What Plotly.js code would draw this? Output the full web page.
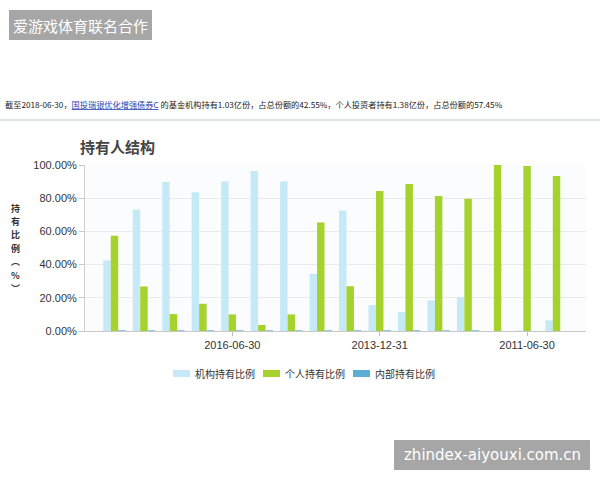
<!DOCTYPE html>
<html>
<head>
<meta charset="utf-8">
<script src="https://cdn.plot.ly/plotly-3.0.1.min.js"></script>
<style>html,body{margin:0;padding:0;background:#fff;}#chart{width:600px;height:480px;}</style>
</head>
<body>
<div id="chart"></div>
<script>
// ---- data ----
const dates = ["2018-06-30","2017-12-31","2017-06-30","2016-12-31","2016-06-30","2015-12-31","2015-06-30","2014-12-31","2014-06-30","2013-12-31","2013-06-30","2012-12-31","2012-06-30","2011-12-31","2011-06-30","2010-12-31"];
const institutional = [42.55, 73.2, 89.8, 83.6, 90.0, 96.4, 90.0, 34.4, 72.6, 15.6, 11.4, 18.4, 20.4, 0.0, 0.3, 6.4];
const individual    = [57.45, 26.8, 10.2, 16.4, 10.0, 3.6, 10.0, 65.4, 27.0, 84.4, 88.6, 81.4, 79.6, 100.0, 99.4, 93.4];
const internal      = [0.4, 0.4, 0.4, 0.4, 0.4, 0.4, 0.4, 0.4, 0.4, 0.4, 0.4, 0.4, 0.4, 0.0, 0.0, 0.0];
const seriesNames = ["机构持有比例", "个人持有比例", "内部持有比例"];
const shownTicks = ["2016-06-30", "2013-12-31", "2011-06-30"];
const yTicks = [0, 20, 40, 60, 80, 100];
const chartTitle = "持有人结构";
const yTitleChars = ["持","有","比","例","︵","%","︶"];
const infoText = '截至2018-06-30，<span style="color:#2a44b0"><u>国投瑞银优化增强债券C</u></span> 的基金机构持有1.03亿份，占总份额的42.55%，个人投资者持有1.38亿份，占总份额的57.45%';
const watermarkTop = "爱游戏体育联名合作";
const watermarkBottom = "zhindex-aiyouxi.com.cn";

// ---- style ----
const colors = ["#c6e9f7", "#a6d22e", "#5aaed6"];
const W = 600, H = 480;
const L = 85, R = 14, T = 165, B = 149;
const PW = W - L - R, PH = H - T - B;
const px = x => (x - L) / PW;
const py = y => (H - B - y) / PH;
const font = "Liberation Sans, Arial, Noto Sans CJK SC, sans-serif";
const cjk = "Noto Sans CJK SC, sans-serif";

const traces = [institutional, individual, internal].map((vals, i) => ({
  type: "bar", name: seriesNames[i], x: dates, y: vals,
  marker: {color: colors[i], line: {width: 0}},
  hoverinfo: "x+y", showlegend: false
}));

const shapes = [];
const annotations = [];

// top separator line
shapes.push({type:"line", xref:"paper", yref:"paper", x0:px(0), x1:px(600), y0:py(120), y1:py(120), line:{color:"#dde2ea", width:2}});
// info text
annotations.push({xref:"paper", yref:"paper", x:px(3), y:py(104), xanchor:"left", yanchor:"middle", showarrow:false, text:infoText, font:{family:cjk, size:8.2, color:"#222"}});

// y title stacked, one character per annotation
yTitleChars.forEach((c, i) => {
  annotations.push({xref:"paper", yref:"paper", x:px(15), y:py(208 + i*13.4), xanchor:"center", yanchor:"middle", showarrow:false, borderpad:0,
    text:"<b>"+c+"</b>", font:{family:cjk, size:9, color:"#333"}});
});

// legend (custom)
const legendX = [173, 263, 353];
seriesNames.forEach((n, i) => {
  shapes.push({type:"rect", xref:"paper", yref:"paper", x0:px(legendX[i]), x1:px(legendX[i]+17), y0:py(377), y1:py(370), fillcolor:colors[i], line:{width:0}});
  annotations.push({xref:"paper", yref:"paper", x:px(legendX[i]+20), y:py(373.5), xanchor:"left", yanchor:"middle", showarrow:false, text:n, font:{family:cjk, size:10, color:"#333"}});
});

// watermarks
shapes.push({type:"rect", xref:"paper", yref:"paper", x0:px(9), x1:px(152), y0:py(40), y1:py(10), fillcolor:"#a6a6a6", line:{width:0}});
annotations.push({xref:"paper", yref:"paper", x:px(80.5), y:py(25), xanchor:"center", yanchor:"middle", showarrow:false, text:watermarkTop, font:{family:cjk, size:15, color:"#ffffff"}});
shapes.push({type:"rect", xref:"paper", yref:"paper", x0:px(394), x1:px(590), y0:py(470), y1:py(440), fillcolor:"#a6a6a6", line:{width:0}});
annotations.push({xref:"paper", yref:"paper", x:px(492), y:py(455), xanchor:"center", yanchor:"middle", showarrow:false, text:watermarkBottom, font:{family:"DejaVu Sans, sans-serif", size:15, color:"#ffffff"}});

const layout = {
  width: W, height: H,
  margin: {l: L, r: R, t: T, b: B, pad: 0},
  paper_bgcolor: "#ffffff",
  plot_bgcolor: "#fbfcfd",
  title: {text: "<b>" + chartTitle + "</b>", x: 80/W, xanchor: "left", xref: "container", y: 1 - 148/H, yanchor: "middle", yref: "container", font: {family: cjk, size: 15, color: "#444"}},
  barmode: "group", bargap: 0.24, bargroupgap: 0,
  xaxis: {type: "category", range: [-1, dates.length], tickmode: "array", tickvals: shownTicks, ticktext: shownTicks,
    ticks: "outside", ticklen: 4, tickcolor: "#bbb", showgrid: false, showline: true, linecolor: "#c8c8c8", linewidth: 1,
    tickfont: {family: font, size: 11, color: "#333"}, fixedrange: true, zeroline: false},
  yaxis: {range: [0, 100], tickvals: yTicks, ticktext: yTicks.map(v => v.toFixed(2) + "%"), tickmode: "array",
    ticks: "outside", ticklen: 5, tickcolor: "#c8c8c8", showgrid: true, gridcolor: "#e8eaed", gridwidth: 1,
    showline: true, linecolor: "#d0d0d0", zeroline: false,
    tickfont: {family: font, size: 11, color: "#333"}, fixedrange: true},
  shapes: shapes,
  annotations: annotations,
  showlegend: false
};

Plotly.newPlot("chart", traces, layout, {displayModeBar: false, staticPlot: true});
</script>
</body>
</html>
